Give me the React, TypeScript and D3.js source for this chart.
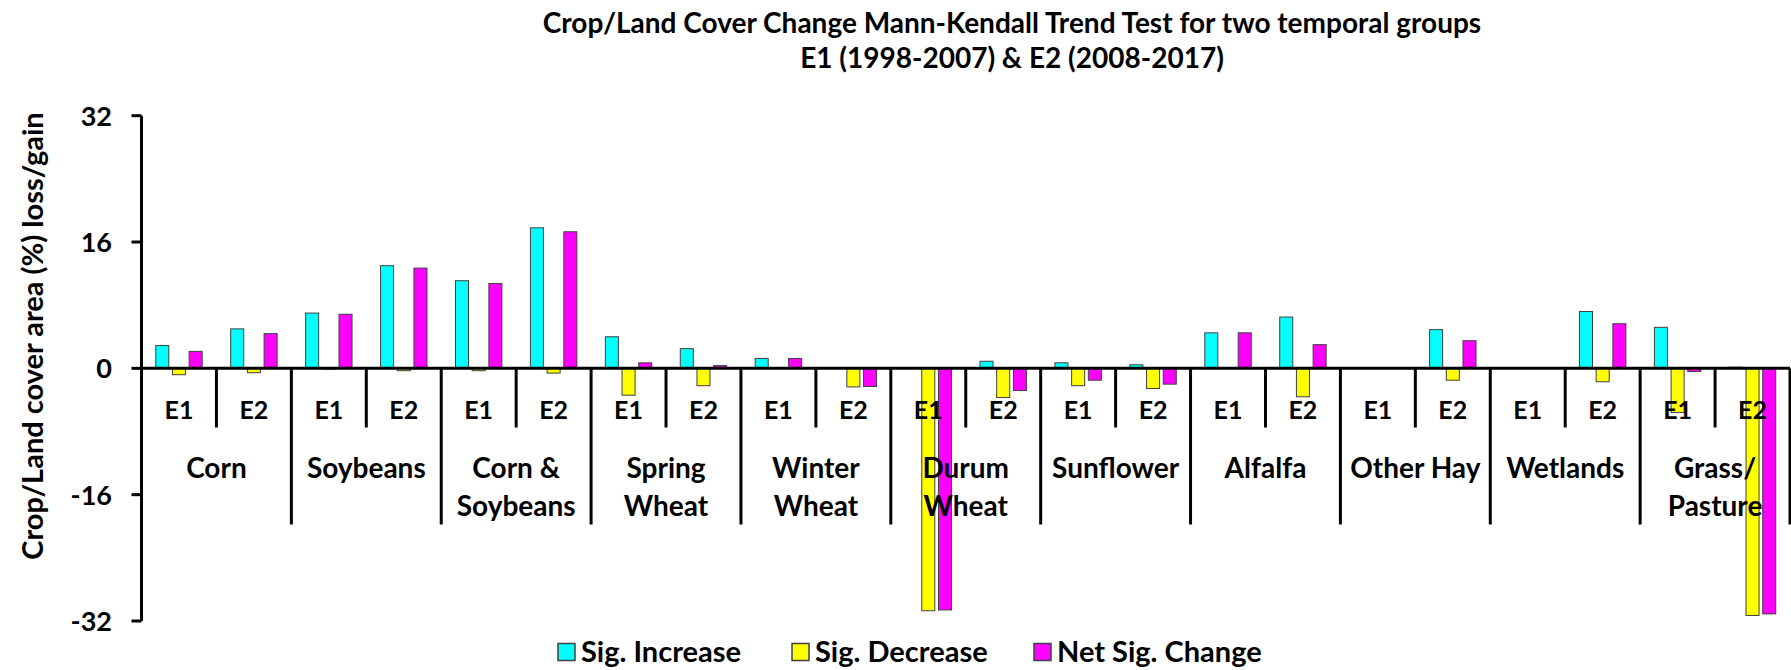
import React from "react";
import * as d3 from "d3";

const categories = ["Corn", "Soybeans", "Corn &\nSoybeans", "Spring\nWheat", "Winter\nWheat", "Durum\nWheat", "Sunflower", "Alfalfa", "Other Hay", "Wetlands", "Grass/\nPasture"];
const periods = ["E1", "E2"];
const seriesNames = ["Sig. Increase", "Sig. Decrease", "Net Sig. Change"];
const seriesColors = ["#00FFFF", "#FFFF00", "#FF00FF"];

// values per category, [E1, E2]
const sigIncrease = [2.9, 5.0, 7.0, 13.0, 11.1, 17.8, 4.0, 2.5, 1.25, 0, 0, 0.9, 0.7, 0.45, 4.5, 6.5, 0, 4.9, 0, 7.2, 5.2, 0.15];
const sigDecrease = [-0.8, -0.55, -0.1, -0.3, -0.3, -0.6, -3.4, -2.2, 0, -2.35, -30.7, -3.7, -2.2, -2.55, 0, -3.6, 0, -1.5, 0, -1.7, -5.6, -31.3];
const netChange = [2.15, 4.4, 6.85, 12.7, 10.75, 17.3, 0.7, 0.35, 1.25, -2.3, -30.6, -2.8, -1.5, -2.0, 4.5, 3.0, 0, 3.5, 0, 5.65, -0.4, -31.1];
const yTicks = [32, 16, 0, -16, -32];

const titleLines = ["Crop/Land Cover Change Mann-Kendall Trend Test for two temporal groups", "E1 (1998-2007) & E2 (2008-2017)"];
const yTitle = "Crop/Land cover area (%) loss/gain";

const W = 1791, H = 670;
const FONT = "Lato, 'Open Sans', sans-serif";

export default function App() {
  const slots = categories.flatMap((c, i) => periods.map((p) => `${i}-${p}`));
  const x = d3.scaleBand<string>().domain(slots).range([141.5, 1790]).padding(0);
  const step = x.step();
  const x1 = d3.scaleBand<string>().domain(seriesNames).range([0, 50.1]).paddingInner(0.22).paddingOuter(0.11);
  const y = d3.scaleLinear().domain([-32, 32]).range([621, 115.7]);
  const y0 = y(0);
  const allSeries = [sigIncrease, sigDecrease, netChange];

  const bars: any[] = [];
  slots.forEach((s, si) => {
    const c = (x(s) as number) + step / 2;
    allSeries.forEach((vals, k) => {
      const v = vals[si];
      if (v === 0) return;
      const bx = c - 25.05 + (x1(seriesNames[k]) as number);
      bars.push(
        <rect key={`${s}-${k}`} x={bx} width={x1.bandwidth()} y={Math.min(y(v), y0)} height={Math.abs(y(v) - y0)}
          fill={seriesColors[k]} stroke="#404040" strokeWidth={1} />
      );
    });
  });

  const dividers = d3.range(1, slots.length + 1).map((k) => {
    const xx = 141.5 + k * step;
    const long = k % 2 === 0;
    return <line key={`d${k}`} x1={xx} x2={xx} y1={y0} y2={long ? 524.5 : 427.5} stroke="#000" strokeWidth={3} />;
  });

  const legendX = [558, 792, 1034];

  return (
    <svg width={W} height={H} style={{ position: "absolute", left: 0, top: 0, background: "#fff" }} fontFamily={FONT} fontWeight={700}>
      <rect width={W} height={H} fill="#fff" />
      {titleLines.map((t, i) => (
        <text key={t} x={1012} y={i === 0 ? 33 : 68} textAnchor="middle" fontSize={28}>{t}</text>
      ))}
      <text transform={`translate(43,336) rotate(-90)`} textAnchor="middle" fontSize={29}>{yTitle}</text>
      {bars}
      <line x1={141.5} x2={141.5} y1={y(32)} y2={y(-32)} stroke="#000" strokeWidth={3} />
      {yTicks.map((t) => (
        <g key={t}>
          <line x1={131.5} x2={141.5} y1={y(t)} y2={y(t)} stroke="#000" strokeWidth={3} />
          <text x={112} y={y(t) + 10} textAnchor="end" fontSize={27}>{t}</text>
        </g>
      ))}
      <line x1={140} x2={1790} y1={y0} y2={y0} stroke="#000" strokeWidth={3} />
      {dividers}
      {slots.map((s, si) => (
        <text key={`p${s}`} x={(x(s) as number) + step / 2} y={419} textAnchor="middle" fontSize={25}>{periods[si % 2]}</text>
      ))}
      {categories.map((c, i) => {
        const cx = 141.5 + (i * 2 + 1) * step;
        return (
          <text key={c} x={cx} textAnchor="middle" fontSize={28}>
            {c.split("\n").map((line, li) => (
              <tspan key={li} x={cx} y={li === 0 ? 478 : 516}>{line}</tspan>
            ))}
          </text>
        );
      })}
      {seriesNames.map((n, k) => (
        <g key={n}>
          <rect x={legendX[k]} y={643.5} width={17} height={17} fill={seriesColors[k]} stroke="#404040" strokeWidth={1.5} />
          <text x={legendX[k] + 23} y={662} fontSize={29}>{n}</text>
        </g>
      ))}
    </svg>
  );
}
